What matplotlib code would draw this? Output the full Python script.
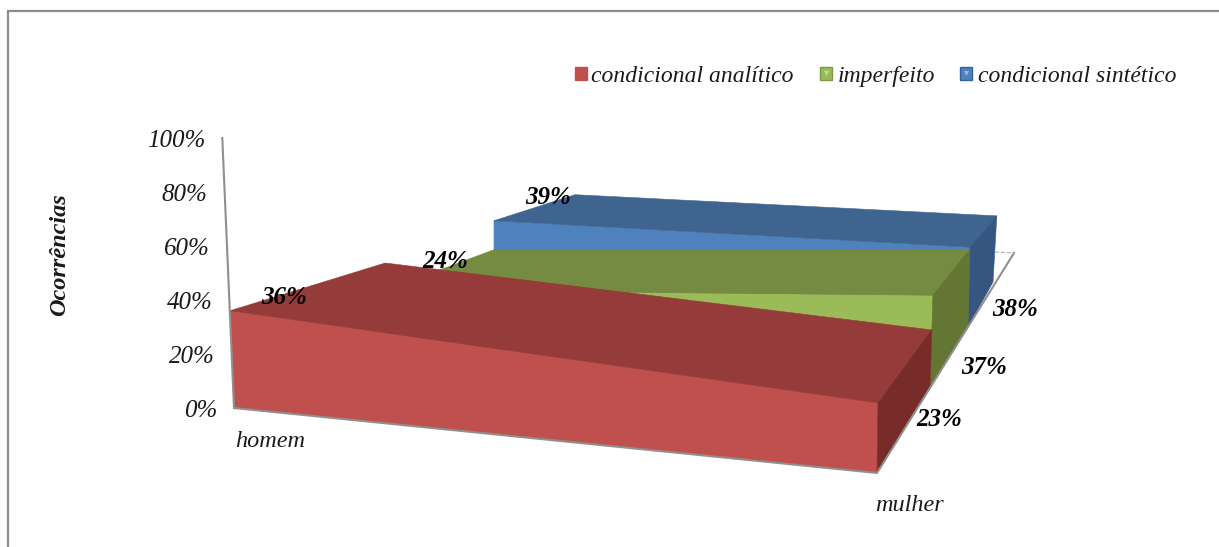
import matplotlib
matplotlib.use("Agg")
from matplotlib import pyplot as plt
from matplotlib.patches import Polygon, Rectangle

plt.rcParams['font.family'] = ['Liberation Serif', 'DejaVu Serif']

categories = ['homem', 'mulher']
series_names = ['condicional analítico', 'imperfeito', 'condicional sintético']
condicional_analitico = [36, 23]
imperfeito = [24, 37]
condicional_sintetico = [39, 38]
y_ticks = [0, 20, 40, 60, 80, 100]

# front, top and side shades of each slab
red = ['#c0504d', '#953b39', '#772c2a']
green = ['#9bbb59', '#748b41', '#647634']
blue = ['#4f81bd', '#3e648f', '#345680']

# floor position of each depth row (left end, right end) and the
# screen vector of a full 100% rise there, in figure pixels
floor_l = [(234, 408), (387, 344), (494, 296), (575, 261)]
floor_r = [(877, 473), (930, 387), (968, 327), (993, 282)]
rise_l = [(-11.7, -270), (-5, -225), (0, -193), (0, -170)]
rise_r = [(4, -304), (8, -248), (5, -210), (10, -174)]
back_corner = (1014, 253)


def project(cat, depth, pct):
    base = (floor_l if cat == 0 else floor_r)[depth]
    rise = (rise_l if cat == 0 else rise_r)[depth]
    return base[0] + rise[0] * pct / 100, base[1] + rise[1] * pct / 100


def slab(ax, depth, values, colors):
    front = [project(0, depth, 0), project(1, depth, 0),
             project(1, depth, values[1]), project(0, depth, values[0])]
    top = [project(0, depth, values[0]), project(1, depth, values[1]),
           project(1, depth + 1, values[1]), project(0, depth + 1, values[0])]
    side = [project(1, depth, 0), project(1, depth + 1, 0),
            project(1, depth + 1, values[1]), project(1, depth, values[1])]
    for pts, c in zip([front, top, side], colors):
        ax.add_patch(Polygon(pts, closed=True, facecolor=c, edgecolor=c, linewidth=0.4))


fig = plt.figure(figsize=(12.19, 5.47), dpi=100)
ax = fig.add_axes([0, 0, 1, 1])
ax.set_xlim(0, 1219)
ax.set_ylim(547, 0)
ax.axis('off')

# outer frame, only top and left are visible
ax.plot([8, 8, 1219], [547, 11, 11], color='#8c8c8c', linewidth=1.6, solid_joinstyle='miter')

# floor edges and value axis
p0 = project(0, 0, 0)
p1 = project(1, 0, 0)
ax.plot([p0[0], p1[0], back_corner[0]], [p0[1], p1[1], back_corner[1]], color='#8f8f8f', linewidth=1.5)
top_axis = project(0, 0, 100)
ax.plot([p0[0], top_axis[0]], [p0[1], top_axis[1]], color='#8f8f8f', linewidth=1.5)
ax.plot([floor_r[3][0] + 2, back_corner[0]], [back_corner[1] - 1, back_corner[1]],
        color='#b0b0b0', linewidth=0.8, linestyle='--')

# back to front so nearer slabs cover the others
slab(ax, 2, condicional_sintetico, blue)
slab(ax, 1, imperfeito, green)
slab(ax, 0, condicional_analitico, red)

for t in y_ticks:
    x, y = project(0, 0, t)
    ax.text(x - 17, y + 3, '{}%'.format(t), ha='right', va='center',
            style='italic', fontsize=18, color='#1a1a1a')

ax.text(235, 447, categories[0], ha='left', va='baseline', style='italic', fontsize=17.5, color='#1a1a1a')
ax.text(875, 511, categories[1], ha='left', va='baseline', style='italic', fontsize=17.5, color='#1a1a1a')

ax.text(60, 255, 'Ocorrências', rotation=90, ha='center', va='center',
        style='italic', weight='bold', fontsize=17.5, color='#1a1a1a')

# value labels, series by series
label_pos = [[(284, 297), (939, 419)], [(445, 261), (984, 368)], [(548, 197), (1015, 309)]]
for vals, pos in zip([condicional_analitico, imperfeito, condicional_sintetico], label_pos):
    for v, (x, y) in zip(vals, pos):
        ax.text(x, y, '{}%'.format(v), ha='center', va='center', style='italic',
                weight='bold', fontsize=18, color='black')

# legend
marker_x = [575, 820, 960]
text_x = [591, 838, 978]
marker_edge = ['#c0504d', '#7d9a40', '#386296']
marker_fill = [red[0], green[0], blue[0]]
marker_mark = [red[0], '#c3dc8c', '#8fb6e6']
for name, mx, tx, e, f, m in zip(series_names, marker_x, text_x, marker_edge, marker_fill, marker_mark):
    ax.add_patch(Rectangle((mx, 67), 12, 13, facecolor=f, edgecolor=e, linewidth=1))
    if m != f:
        ax.scatter([mx + 6], [72.5], marker='v', s=14, color=m, linewidths=0)
    ax.text(tx, 82, name, ha='left', va='baseline', style='italic', fontsize=17, color='#1a1a1a')

plt.savefig('out.png', dpi=100)
